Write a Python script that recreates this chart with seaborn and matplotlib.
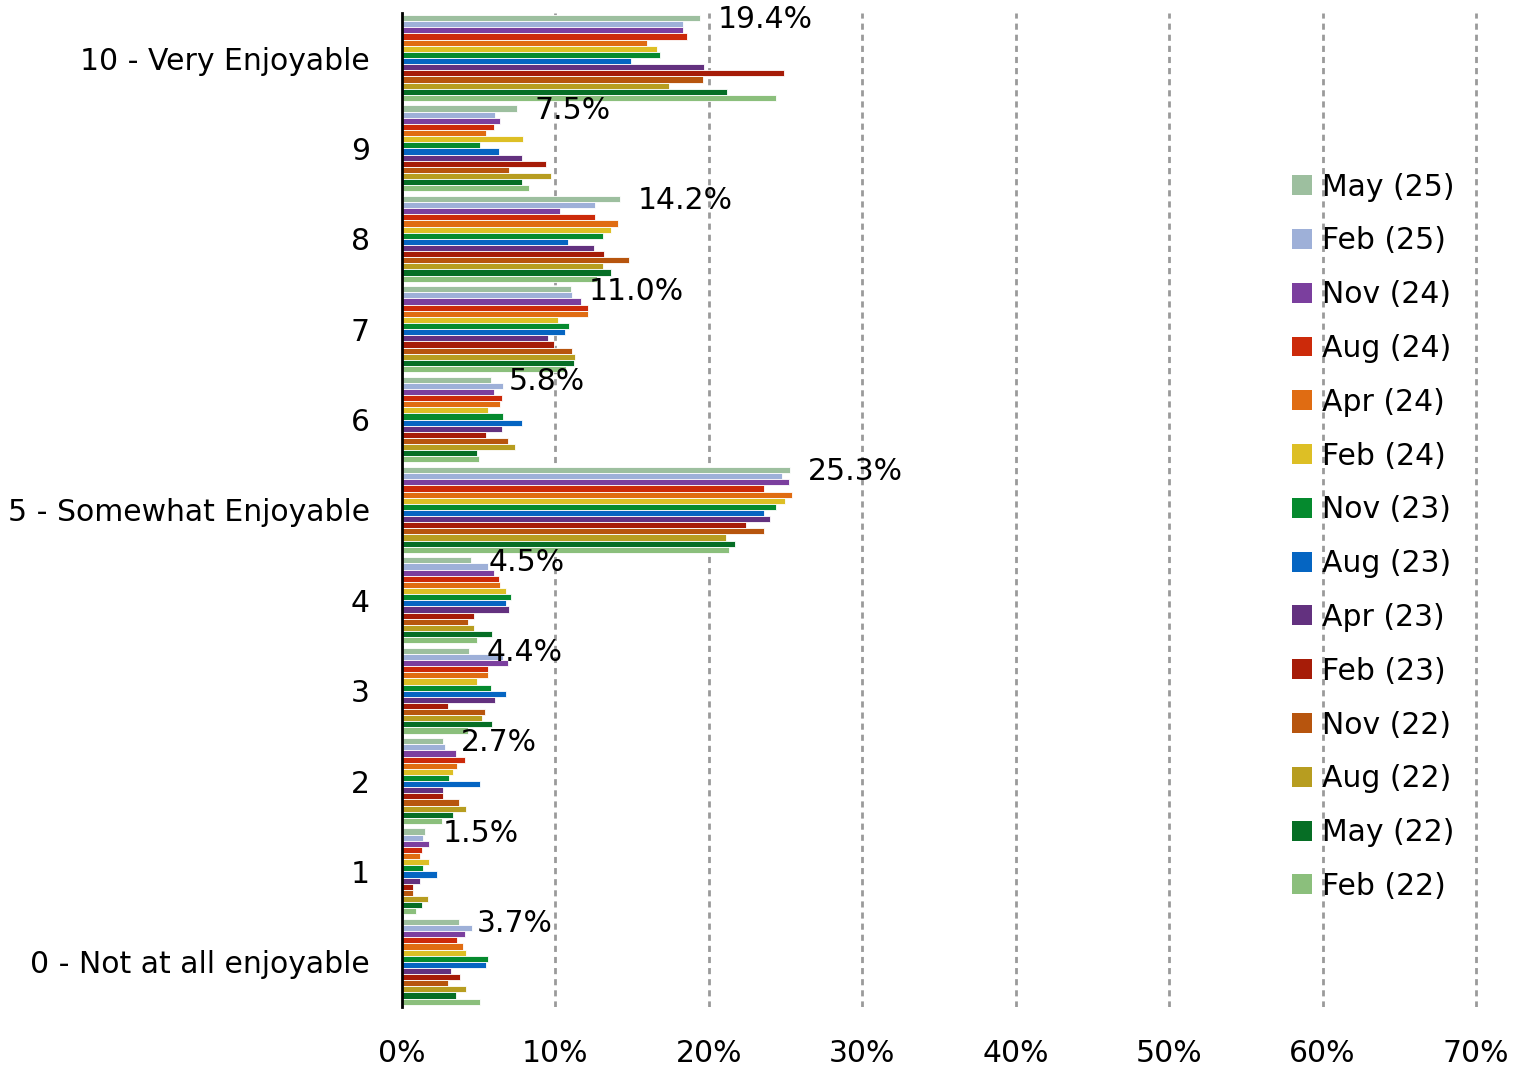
import matplotlib
matplotlib.use("Agg")
import matplotlib.pyplot as plt
import seaborn as sns
import pandas as pd
from matplotlib.ticker import FuncFormatter, FixedLocator
from matplotlib.patches import Patch

categories = ["10 - Very Enjoyable", "9", "8", "7", "6", "5 - Somewhat Enjoyable",
              "4", "3", "2", "1", "0 - Not at all enjoyable"]

series_names = ["May (25)", "Feb (25)", "Nov (24)", "Aug (24)", "Apr (24)", "Feb (24)",
                "Nov (23)", "Aug (23)", "Apr (23)", "Feb (23)", "Nov (22)", "Aug (22)",
                "May (22)", "Feb (22)"]

x_ticks = [0, 10, 20, 30, 40, 50, 60, 70]

may25 = [19.4, 7.5, 14.2, 11.0, 5.8, 25.3, 4.5, 4.4, 2.7, 1.5, 3.7]
feb25 = [18.3, 6.1, 12.6, 11.1, 6.6, 24.8, 5.6, 6.6, 2.8, 1.4, 4.6]
nov24 = [18.3, 6.4, 10.3, 11.7, 6.0, 25.2, 6.0, 6.9, 3.5, 1.8, 4.1]
aug24 = [18.6, 6.0, 12.6, 12.1, 6.5, 23.6, 6.3, 5.6, 4.1, 1.3, 3.6]
apr24 = [16.0, 5.5, 14.1, 12.1, 6.4, 25.4, 6.4, 5.6, 3.6, 1.2, 4.0]
feb24 = [16.6, 7.9, 13.6, 10.2, 5.6, 25.0, 6.8, 4.9, 3.3, 1.8, 4.2]
nov23 = [16.8, 5.1, 13.1, 10.9, 6.6, 24.4, 7.1, 5.8, 3.1, 1.4, 5.6]
aug23 = [14.9, 6.3, 10.8, 10.6, 7.8, 23.6, 6.8, 6.8, 5.1, 2.3, 5.5]
apr23 = [19.7, 7.8, 12.5, 9.5, 6.5, 24.0, 7.0, 6.1, 2.7, 1.2, 3.2]
feb23 = [24.9, 9.4, 13.2, 9.9, 5.5, 22.4, 4.7, 3.0, 2.7, 0.7, 3.8]
nov22 = [19.6, 7.0, 14.8, 11.1, 6.9, 23.6, 4.3, 5.4, 3.7, 0.7, 3.0]
aug22 = [17.4, 9.7, 13.1, 11.3, 7.4, 21.1, 4.7, 5.2, 4.2, 1.7, 4.2]
may22 = [21.2, 7.8, 13.6, 11.2, 4.9, 21.7, 5.9, 5.9, 3.3, 1.3, 3.5]
feb22 = [24.4, 8.3, 12.7, 10.7, 5.0, 21.3, 4.9, 4.3, 2.6, 0.9, 5.1]

series_values = [may25, feb25, nov24, aug24, apr24, feb24, nov23, aug23,
                 apr23, feb23, nov22, aug22, may22, feb22]

colors = ["#9dbf9f", "#9eb0d8", "#7b3f9e", "#cc2a0a", "#e06c12", "#ddbf25",
          "#058a2e", "#0565c2", "#63317f", "#a61c08", "#b7550e", "#b79d20",
          "#066e25", "#8bbf7c"]

rows = []
for name, vals in zip(series_names, series_values):
    for cat, v in zip(categories, vals):
        rows.append({"category": cat, "series": name, "value": v})
df = pd.DataFrame(rows)

sns.set_theme(style="white")
plt.rcParams["font.family"] = ["DejaVu Sans"]

FS = 21.5

fig = plt.figure(figsize=(15.28, 10.69), dpi=100)
ax = fig.add_axes([0.263, 0.058, 0.7045, 0.930])

sns.barplot(data=df, y="category", x="value", hue="series",
            order=categories, hue_order=series_names,
            palette=colors, orient="h", width=0.95,
            edgecolor="white", linewidth=0.6, saturation=1,
            ax=ax, legend=False)

ax.set_xlim(0, 70.15)
ax.set_ylim(len(categories) - 0.5, -0.5)
ax.xaxis.set_major_locator(FixedLocator(x_ticks))
ax.xaxis.set_major_formatter(FuncFormatter(lambda x, p: f"{x:.0f}%"))
ax.grid(axis="x", color="#9a9a9a", linestyle=(0, (2.2, 1.8)), linewidth=2)
ax.grid(axis="y", visible=False)
ax.set_axisbelow(True)
for s in ["top", "right", "bottom"]:
    ax.spines[s].set_visible(False)
ax.spines["left"].set_color("black")
ax.spines["left"].set_linewidth(2)
ax.set_xlabel("")
ax.set_ylabel("")
ax.tick_params(axis="x", labelsize=FS, pad=23, length=0, colors="black")
ax.tick_params(axis="y", labelsize=FS, pad=23, length=0, colors="black")

# data labels for the latest wave (first bar container)
first = ax.containers[0]
for bar, v in zip(first, may25):
    ax.text(bar.get_width() + 1.15, bar.get_y() + bar.get_height() / 2 + 0.02,
            f"{v:.1f}%", ha="left", va="center", fontsize=FS, color="black",
            zorder=10)

handles = [Patch(facecolor=c, edgecolor="none") for c in colors]
ax.legend(handles, series_names, loc="center left",
          bbox_to_anchor=(0.816, 0.473), frameon=False, fontsize=FS,
          handlelength=0.65, handleheight=0.65, handletextpad=0.35,
          labelspacing=0.83, borderaxespad=0, labelcolor="black")

fig.savefig("out.png", dpi=100)
